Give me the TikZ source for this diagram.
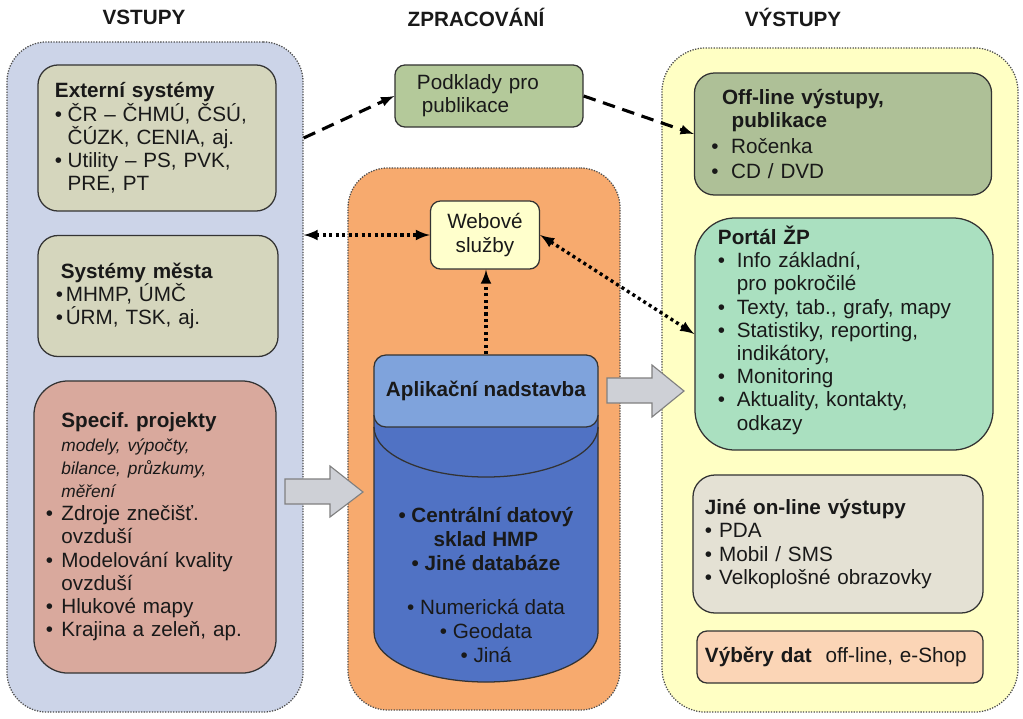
\documentclass[tikz,border=0pt]{standalone}
\usepackage{fontspec}
\setmainfont{Liberation Sans}
\usetikzlibrary{arrows}
\definecolor{inblue}{RGB}{204,212,232}
\definecolor{procorange}{RGB}{247,170,110}
\definecolor{outyellow}{RGB}{255,255,196}
\definecolor{extgrey}{RGB}{213,214,189}
\definecolor{specred}{RGB}{217,169,157}
\definecolor{podgreen}{RGB}{180,201,154}
\definecolor{webyellow}{RGB}{255,255,204}
\definecolor{appblue}{RGB}{127,163,220}
\definecolor{dbblue}{RGB}{80,114,196}
\definecolor{offgreen}{RGB}{174,192,151}
\definecolor{portalgreen}{RGB}{170,224,192}
\definecolor{onlgrey}{RGB}{228,225,212}
\definecolor{selpeach}{RGB}{251,213,182}
\definecolor{arrowgrey}{RGB}{206,208,214}
\frenchspacing
\newcommand{\txt}{\fontsize{14.7}{16.5}\selectfont}
\newcommand{\blt}[1][9pt]{\makebox[#1][l]{\textbullet}}
\newcommand{\cnt}[1][9pt]{\hspace*{#1}}
\tikzset{
    panel/.style={draw=black!70, densely dotted, line width=0.9pt, rounded corners=1cm},
    box/.style={
        draw=black!80, line width=0.9pt, rounded corners=0.5cm,
        align=left, inner ysep=0pt, text=black!90, font=\txt
    },
    title/.style={font=\txt\bfseries, text=black!90},
    dashedline/.style={-latex, line width=2.2pt, dash pattern=on 9pt off 5.5pt},
    dottedline/.style={latex-latex, line width=2.4pt, dash pattern=on 2.2pt off 2.4pt},
    blockarrow/.style={draw=black!50, fill=arrowgrey, line width=0.8pt, line join=miter}
}
\begin{document}
\begin{tikzpicture}[x=0.025cm, y=-0.025cm]
    \useasboundingbox (0,0) rectangle (1023,718);

    % panels
    \node[panel, fill=inblue, minimum width=7.4cm, minimum height=16.75cm] (inpanel) at (155,377) {};
    \node[panel, fill=procorange, minimum width=6.8cm, minimum height=13.55cm] (procpanel) at (484,439) {};
    \node[panel, fill=outyellow, minimum width=8.9cm, minimum height=16.6cm, rounded corners=1.1cm] (outpanel) at (840,380) {};

    \node[title] (tin) at (144,17) {VSTUPY};
    \node[title] (tproc) at (476,17) {ZPRACOVÁNÍ};
    \node[title] (tout) at (793,17) {VÝSTUPY};

    % inputs
    \node[box, fill=extgrey, text width=5.1cm, inner xsep=0.425cm, minimum height=3.65cm] (ext) at (157,138)
        {\textbf{Externí systémy}\\ \blt ČR – ČHMÚ, ČSÚ,\\ \cnt ČÚZK, CENIA, aj.\\ \blt Utility – PS, PVK,\\ \cnt PRE, PT};
    \node[box, fill=extgrey, text width=5.1cm, inner xsep=0.45cm, minimum height=3.025cm] (sys) at (158,296)
        {\cnt[3.5pt]\textbf{Systémy města}\\ \blt[7pt]MHMP, ÚMČ\\ \blt[7pt]ÚRM, TSK, aj.};
    \node[box, fill=specred, text width=5.45cm, inner xsep=0.3cm, minimum height=7.3cm, rounded corners=0.85cm] (spec) at (155,527)
        {\cnt[11pt]\textbf{Specif. projekty}\\
         {\fontsize{12.3}{16.5}\selectfont\itshape \cnt[11pt]modely, výpočty,\\ \cnt[11pt]bilance, průzkumy,\\ \cnt[11pt]měření}\\
         \blt[11pt]Zdroje znečišť.\\ \cnt[11pt]ovzduší\\ \blt[11pt]Modelování kvality\\ \cnt[11pt]ovzduší\\
         \blt[11pt]Hlukové mapy\\ \blt[11pt]Krajina a zeleň, ap.};

    % processing
    \node[box, fill=podgreen, text width=3.6cm, inner xsep=0.55cm, minimum height=1.55cm, rounded corners=0.25cm] (pod) at (489,96)
        {Podklady pro\\ \cnt[3.5pt]publikace};
    \node[box, fill=webyellow, align=center, inner xsep=0pt, minimum width=2.725cm, minimum height=1.7cm, rounded corners=0.25cm] (web) at (485,235)
        {Webové\\služby};

    \draw[blockarrow] (285,479) -- (330,479) -- (330,466) -- (363,492) -- (330,517) -- (330,504) -- (285,504) -- cycle;
    \draw[blockarrow] (607,378) -- (652,378) -- (652,365) -- (684,391) -- (652,417) -- (652,403) -- (607,403) -- cycle;

    \fill[dbblue] (374,415) -- (374,632) arc[start angle=180, end angle=360, x radius=2.8cm, y radius=1.25cm] -- (598,415) -- cycle;
    \draw[line width=0.9pt, black!80] (374,415) -- (374,632) arc[start angle=180, end angle=360, x radius=2.8cm, y radius=1.25cm] -- (598,415);
    \draw[line width=0.9pt, black!80] (374,427) arc[start angle=180, end angle=360, x radius=2.8cm, y radius=1.25cm];
    \node[box, fill=appblue, align=center, minimum width=5.6cm, minimum height=1.8cm, rounded corners=0.3cm] (app) at (486,391)
        {\textbf{Aplikační nadstavba}};
    \node[font=\fontsize{14.7}{17}\selectfont, align=center, text=black!90] (db) at (486,585)
        {\textbf{\textbullet{} Centrální datový}\\ \textbf{sklad HMP}\\ \textbf{\textbullet{} Jiné databáze}\\[14pt]
         \textbullet{} Numerická data\\ \textbullet{} Geodata\\ \textbullet{} Jiná};

    % outputs
    \node[box, fill=offgreen, text width=6.575cm, inner xsep=0.425cm, minimum height=3.05cm] (offl) at (843,134)
        {\cnt[7.6pt]\textbf{Off-line výstupy,}\\ \cnt[14.4pt]\textbf{publikace}\\[1.5pt] \blt[14pt]Ročenka\\[1.5pt] \blt[14pt]CD / DVD};
    \node[box, fill=portalgreen, text width=6.3cm, inner xsep=0.575cm, minimum height=5.8cm, rounded corners=1cm] (portal) at (844,334)
        {\textbf{Portál ŽP}\\ \blt[13.5pt]Info základní,\\ \cnt[13.5pt]pro pokročilé\\ \blt[13.5pt]Texty, tab., grafy, mapy\\
         \blt[13.5pt]Statistiky, reporting,\\ \cnt[13.5pt]indikátory,\\ \blt[13.5pt]Monitoring\\
         \blt[13.5pt]Aktuality, kontakty,\\ \cnt[13.5pt]odkazy\\[-8pt]\mbox{}};
    \node[box, fill=onlgrey, text width=6.65cm, inner xsep=0.3cm, minimum height=3.45cm, rounded corners=0.55cm] (onl) at (838,544)
        {\textbf{Jiné on-line výstupy}\\ \textbullet{} PDA\\ \textbullet{} Mobil / SMS\\ \textbullet{} Velkoplošné obrazovky};
    \node[box, fill=selpeach, text width=6.75cm, inner xsep=0.2cm, minimum height=1.3cm, rounded corners=0.25cm] (sel) at (840,657)
        {\textbf{Výběry dat}\ \ off-line, e-Shop};

    % connectors
    \draw[dashedline] (inpanel.east |- ext.east) -- (pod.west);
    \draw[dashedline] (pod.east) -- (offl.west);
    \draw[dottedline] (inpanel.east |- web.west) -- (web.west);
    \draw[dottedline] (web.east) -- (portal.west);
    \draw[dottedline, -latex] (app.north) -- (app.north |- web.south);
\end{tikzpicture}
\end{document}
